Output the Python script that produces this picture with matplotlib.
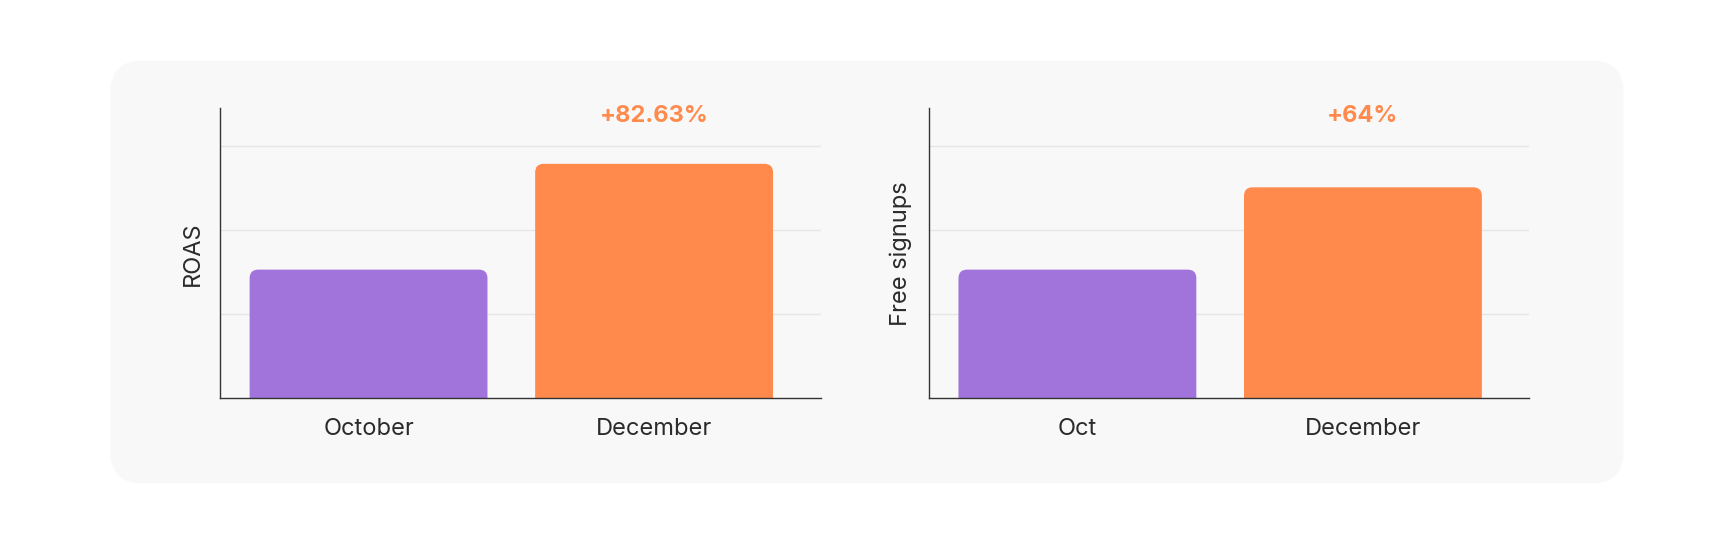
import matplotlib
matplotlib.use("Agg")
import matplotlib.pyplot as plt
from matplotlib.patches import FancyBboxPatch

plt.rcParams['font.family'] = ['Inter', 'DejaVu Sans']

cats_left = ["October", "December"]
vals_left = [1.53, 2.79]
cats_right = ["Oct", "December"]
vals_right = [1.53, 2.51]
labels = ["+82.63%", "+64%"]
ylabels = ["ROAS", "Free signups"]
colors = ["#A074DB", "#FF8A4C"]

W, H = 1568, 491
fig = plt.figure(figsize=(17.34, 5.43), dpi=100)
fig.patch.set_facecolor("white")
bg = fig.add_axes([0, 0, 1, 1], zorder=-10)
bg.set_xlim(0, W)
bg.set_ylim(H, 0)
bg.axis("off")
bg.add_patch(FancyBboxPatch((100, 55), 1368, 382,
                            boxstyle="round,pad=0,rounding_size=28",
                            facecolor="#F8F8F8", edgecolor="none"))

for i, (cats, vals) in enumerate([(cats_left, vals_left), (cats_right, vals_right)]):
    left = (199 if i == 0 else 840) / W
    ax = fig.add_axes([left, 131/H, 543/W, 262/H])
    ax.set_facecolor("none")
    ax.set_xlim(-0.52, 1.583)
    ax.set_ylim(0, 3.45)
    ax.set_yticks([1, 2, 3])
    ax.yaxis.grid(True, color="#E6E6E6", linewidth=1)
    ax.set_axisbelow(True)
    ax.tick_params(axis="y", length=0, labelleft=False)
    ax.tick_params(axis="x", length=0, labelsize=17, colors="#2B2B2B", pad=14)
    for s in ["top", "right"]:
        ax.spines[s].set_visible(False)
    for s in ["left", "bottom"]:
        ax.spines[s].set_color("#333333")
        ax.spines[s].set_linewidth(1)
    ax.set_xticks(range(len(cats)))
    ax.set_xticklabels(cats)
    w = 0.833
    for j, v in enumerate(vals):
        p = FancyBboxPatch((j - w/2, -0.3), w, v + 0.3,
                           boxstyle="round,pad=0,rounding_size=0.03",
                           mutation_aspect=3.39, facecolor=colors[j],
                           edgecolor="none", zorder=2, clip_on=True)
        ax.add_patch(p)
    ax.text(1, 3.36, labels[i], ha="center", va="center", fontsize=17,
            fontweight="bold", color="#FF8A4C")
    ax.set_ylabel(ylabels[i], fontsize=17, color="#2B2B2B", labelpad=12)

fig.savefig("out.png", dpi=100, facecolor="white")
